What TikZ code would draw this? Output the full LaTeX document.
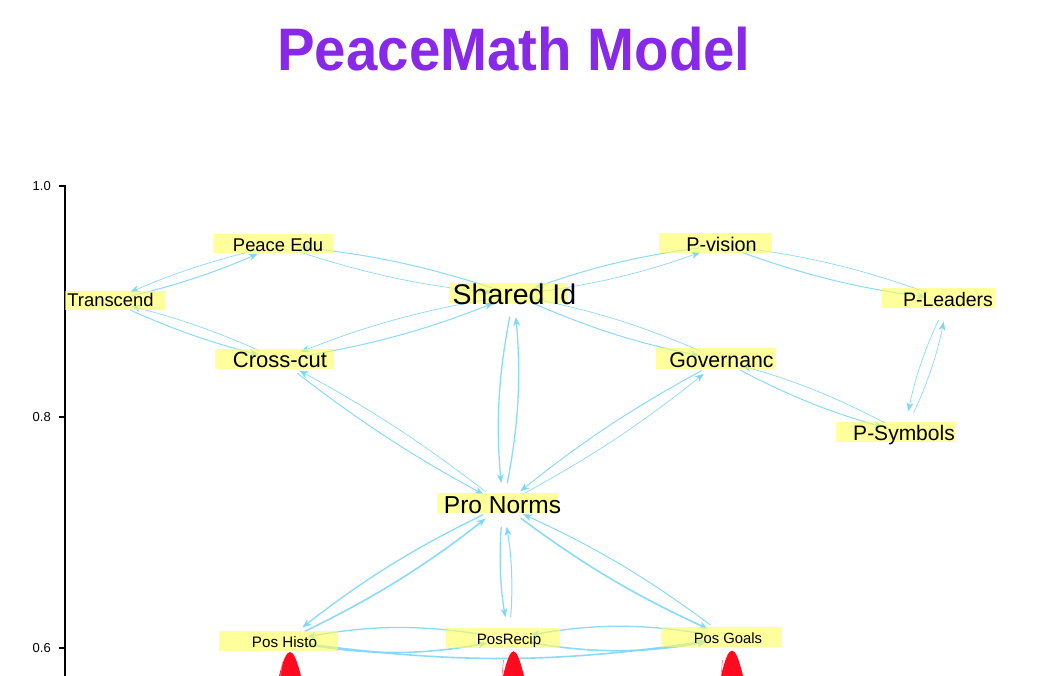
\documentclass[tikz,border=0pt]{standalone}
\usepackage{fontspec}
\setmainfont{Liberation Sans}
\usetikzlibrary{arrows.meta}
\definecolor{sky}{RGB}{125,214,250}
\definecolor{titlepurple}{RGB}{136,40,232}
\definecolor{boxyellow}{RGB}{255,255,90}
\definecolor{kde}{RGB}{255,10,30}
\definecolor{kdeline}{RGB}{255,120,130}
\newcommand\setfs[1]{\fontsize{#1}{#1}\selectfont}
\begin{document}
\begin{tikzpicture}[x=1pt,y=-1pt,
  edge/.style={draw=sky, draw opacity=0.9, line width=0.9pt,
    -{Stealth[length=9pt,width=7pt,inset=2.5pt,fill=sky]},
    shorten >=22pt, shorten <=22pt},
  ewa/.style={line width=0.7pt},
  ewb/.style={line width=1.0pt},
  ewc/.style={line width=1.3pt},
  ewd/.style={line width=1.6pt},
  box/.style={fill=boxyellow, fill opacity=0.6, draw=none, inner sep=0pt},
  lbl/.style={inner sep=0pt, text=black, anchor=base},
  ticklbl/.style={inner sep=0pt, anchor=east, font=\setfs{13}},
  axisline/.style={draw=black, line width=1.5pt},
  kdeshape/.style={fill=kde, draw=none},
  kdetrace/.style={draw=kdeline, line width=0.6pt}
]
\useasboundingbox (0,0) rectangle (1044,676);

% title
\node[inner sep=0pt, anchor=base, text=titlepurple, font=\bfseries\setfs{60}, xscale=0.94, transform shape] (title) at (514,71) {PeaceMath Model};

% axis
\draw[axisline] (59,186) -- (65,186) -- (65,676);
\draw[axisline] (59,417) -- (65,417);
\draw[axisline] (59,648) -- (65,648);
\node[ticklbl] (t10) at (51,186) {1.0};
\node[ticklbl] (t08) at (51,417.5) {0.8};
\node[ticklbl] (t06) at (51,648.5) {0.6};

% graph positions
\coordinate (pe) at (278,245);
\coordinate (tr) at (110,301);
\coordinate (cc) at (280,360);
\coordinate (si) at (514,295);
\coordinate (pv) at (721,245);
\coordinate (pl) at (948,300);
\coordinate (gv) at (721,360);
\coordinate (ps) at (904,433);
\coordinate (pn) at (503,505);
\coordinate (ph) at (285,641);
\coordinate (pr) at (509,639);
\coordinate (pg) at (728,638);

% connectors
\draw[edge,ewa] (pe) to[bend right=5] (tr);
\draw[edge,ewb] (tr) to[bend right=5] (pe);
\draw[edge,ewb] (tr) to[bend right=5] (cc);
\draw[edge,ewa] (cc) to[bend right=5] (tr);
\draw[edge,ewa] (pe) to[bend right=6] (si);
\draw[edge,ewb] (si) to[bend right=6] (pe);
\draw[edge,ewb] (cc) to[bend right=6] (si);
\draw[edge,ewa] (si) to[bend right=6] (cc);
\draw[edge,ewa] (si) to[bend right=6] (pv);
\draw[edge,ewb] (pv) to[bend right=6] (si);
\draw[edge,ewb] (si) to[bend right=6] (gv);
\draw[edge,ewa] (gv) to[bend right=6] (si);
\draw[edge,ewb] (pv) to[bend right=6] (pl);
\draw[edge,ewa] (pl) to[bend right=6] (pv);
\draw[edge,ewb] (gv) to[bend right=6] (ps);
\draw[edge,ewa] (ps) to[bend right=6] (gv);
\draw[edge,ewa] (pl) to[bend right=7] (ps);
\draw[edge,ewa] (ps) to[bend right=7] (pl);
\draw[edge,ewc] (si) to[bend right=8] (pn);
\draw[edge,ewc] (pn) to[bend right=8] (si);
\draw[edge,ewb] (cc) to[bend right=4.5] (pn);
\draw[edge,ewa] (pn) to[bend right=4.5] (cc);
\draw[edge,ewb] (gv) to[bend right=5] (pn);
\draw[edge,ewa] (pn) to[bend right=5] (gv);
\draw[edge,ewc] (pn) to[bend right=6] (ph);
\draw[edge,ewd] (ph) to[bend right=6] (pn);
\draw[edge,ewc] (pn) to[bend right=7] (pr);
\draw[edge,ewb] (pr) to[bend right=7] (pn);
\draw[edge,ewd] (pn) to[bend right=6] (pg);
\draw[edge,ewb] (pg) to[bend right=6] (pn);
\draw[edge,ewd] (ph) to[bend right=10] (pr);
\draw[edge,ewc] (pr) to[bend right=10] (ph);
\draw[edge,ewd] (pr) to[bend right=10] (pg);
\draw[edge,ewc] (pg) to[bend right=10] (pr);
\draw[edge,ewd] (ph) to[bend right=8] (pg);

% label boxes
\node[box, minimum width=120pt, minimum height=19pt] (peB) at (273,243.5) {};
\node[box, minimum width=100pt, minimum height=19pt] (trB) at (115,300.5) {};
\node[box, minimum width=119pt, minimum height=20pt] (ccB) at (274.5,359) {};
\node[box, minimum width=119pt, minimum height=20pt] (siB) at (508.5,293) {};
\node[box, minimum width=113pt, minimum height=20pt] (pvB) at (715.5,243) {};
\node[box, minimum width=113pt, minimum height=20pt] (plB) at (938.5,298) {};
\node[box, minimum width=120pt, minimum height=21pt] (gvB) at (716,358.5) {};
\node[box, minimum width=119pt, minimum height=20pt] (psB) at (895.5,432) {};
\node[box, minimum width=120pt, minimum height=20pt] (pnB) at (497,503) {};
\node[box, minimum width=119pt, minimum height=20pt] (phB) at (278.5,641) {};
\node[box, minimum width=114pt, minimum height=20pt] (prB) at (503,638) {};
\node[box, minimum width=121pt, minimum height=20pt] (pgB) at (721.5,637) {};

% labels
\node[lbl, font=\setfs{18.4}] (peL) at (278,252) {Peace Edu};
\node[lbl, font=\setfs{18.4}] (trL) at (110.5,307) {Transcend};
\node[lbl, font=\setfs{22}] (ccL) at (280,367) {Cross-cut};
\node[lbl, font=\setfs{28.5}] (siL) at (514.5,305) {Shared Id};
\node[lbl, font=\setfs{19.8}] (pvL) at (721.5,252) {P-vision};
\node[lbl, font=\setfs{19.5}] (plL) at (948,306) {P-Leaders};
\node[lbl, font=\setfs{21.3}] (gvL) at (721.5,367) {Governanc};
\node[lbl, font=\setfs{21}] (psL) at (904,440) {P-Symbols};
\node[lbl, font=\setfs{24.5}] (pnL) at (502.5,513) {Pro Norms};
\node[lbl, font=\setfs{15.2}] (phL) at (284.5,647) {Pos Histo};
\node[lbl, font=\setfs{15}] (prL) at (509,644) {PosRecip};
\node[lbl, font=\setfs{14.8}] (pgL) at (728,643) {Pos Goals};

% red density shapes at the bottom edge
\fill[kdeshape] (279,676) .. controls (287,644) and (293,644) .. (301,676) -- cycle;
\draw[kdetrace] (282.5,662) -- (280.5,676);
\fill[kdeshape] (503,676) .. controls (511,643) and (516,643) .. (524,676) -- cycle;
\draw[kdetrace] (503.5,660) -- (502,676);
\fill[kdeshape] (721,676) .. controls (729,642) and (735,642) .. (743,676) -- cycle;
\draw[kdetrace] (722.5,660) -- (721,676);
\end{tikzpicture}
\end{document}
